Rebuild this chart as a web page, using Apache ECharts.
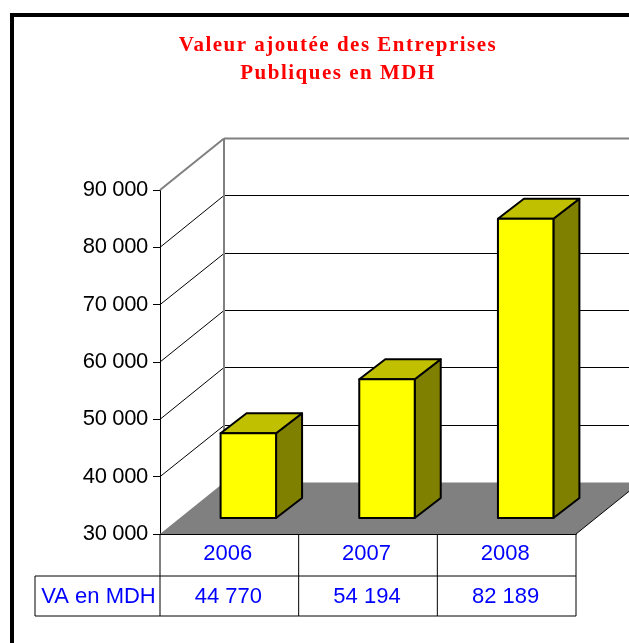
<!DOCTYPE html>
<html>
<head>
<meta charset="utf-8">
<style>html,body{margin:0;padding:0;background:#fff;overflow:hidden}#c{width:629px;height:643px}</style>
<script src="https://cdn.jsdelivr.net/npm/echarts@6/dist/echarts.min.js"></script>
</head>
<body>
<div id="c"></div>
<script>
const titleText = 'Valeur ajoutée des Entreprises\nPubliques en MDH';
const categories = ['2006', '2007', '2008'];
const values = [44770, 54194, 82189];
const yTicks = [30000, 40000, 50000, 60000, 70000, 80000, 90000];
const rowLabel = 'VA en MDH';

const DEPTH_X = 64, DEPTH_Y = 51.5;
const BAR_SHIFT_X = 19, BAR_SHIFT_Y = 16, BAR_DEPTH_X = 26, BAR_DEPTH_Y = 20, BAR_RATIO = 0.4;
const ROW1 = 42, ROW2 = 40, LABEL_COL = 125;
const FONT = '22px "Liberation Sans", Arial, sans-serif';
const fmt = v => String(v).replace(/\B(?=(\d{3})+$)/g, ' ');

// Tracking: canvas letterSpacing for the wide red title and the tight black tick labels
const proto = CanvasRenderingContext2D.prototype, nativeFill = proto.fillText;
proto.fillText = function (t, x, y, m) {
  const f = this.fillStyle;
  this.letterSpacing = f === '#ff0000' ? '1.5px' : f === '#000000' ? '-0.35px' : '0px';
  return m === undefined ? nativeFill.call(this, t, x, y) : nativeFill.call(this, t, x, y, m);
};

const line = (x1, y1, x2, y2, stroke, lineWidth) =>
  ({ type: 'line', shape: { x1, y1, x2, y2 }, style: { stroke, lineWidth } });
const poly = (points, fill, stroke, lineWidth) =>
  ({ type: 'polygon', shape: { points }, style: { fill, stroke, lineWidth, lineJoin: 'round' } });

function renderGrid(params, api) {
  const v = api.value(1), p = api.coord([0, v]), band = api.size([1, 0])[0];
  const x0 = p[0] - band / 2, y = p[1], xEnd = x0 + band * categories.length;
  if (v === yTicks[0]) return { type: 'group', children: [] };
  const top = v === yTicks[yTicks.length - 1];
  const c = top ? '#808080' : '#000', w = top ? 2 : 1;
  const back = Math.floor(y - DEPTH_Y) + 0.5;
  return { type: 'group', children: [
    line(x0, y, x0 + DEPTH_X, back, c, w),
    line(x0 + DEPTH_X, back, xEnd + DEPTH_X, back, c, w)
  ] };
}
function renderShell(params, api) {
  const band = api.size([1, 0])[0];
  const lo = api.coord([0, yTicks[0]]), hi = api.coord([0, yTicks[yTicks.length - 1]]);
  const x0 = lo[0] - band / 2, x1 = x0 + band * categories.length, y0 = lo[1], yT = hi[1];
  return { type: 'group', children: [
    line(x0 + DEPTH_X, yT - DEPTH_Y, x0 + DEPTH_X, y0 - DEPTH_Y, '#808080', 2),
    poly([[x0, y0], [x1, y0], [x1 + DEPTH_X, y0 - DEPTH_Y], [x0 + DEPTH_X, y0 - DEPTH_Y]], '#808080', null, 0),
    line(x1, y0, x1 + DEPTH_X, y0 - DEPTH_Y, '#000', 1)
  ] };
}
function renderBar(params, api) {
  const i = api.value(0), band = api.size([1, 0])[0];
  const top = api.coord([i, api.value(1)]), base = api.coord([i, yTicks[0]]);
  const w = band * BAR_RATIO;
  const l = top[0] + BAR_SHIFT_X - w / 2, r = l + w;
  const t = top[1] - BAR_SHIFT_Y, b = base[1] - BAR_SHIFT_Y;
  const dx = BAR_DEPTH_X, dy = BAR_DEPTH_Y;
  return { type: 'group', children: [
    poly([[r, t], [r + dx, t - dy], [r + dx, b - dy], [r, b]], '#808000', '#000', 2),
    poly([[l, t], [l + dx, t - dy], [r + dx, t - dy], [r, t]], '#C0C000', '#000', 2),
    poly([[l, t], [r, t], [r, b], [l, b]], '#FFFF00', '#000', 2)
  ] };
}
function renderTable(params, api) {
  const i = api.value(0), band = api.size([1, 0])[0], p = api.coord([i, yTicks[0]]);
  const l = p[0] - band / 2, r = p[0] + band / 2, y0 = p[1], y1 = y0 + ROW1, y2 = y1 + ROW2;
  const kids = [
    line(r, y0, r, y2, '#000', 1),
    line(l, y1, r, y1, '#000', 1),
    line(l, y2, r, y2, '#000', 1),
    { type: 'text', style: { x: p[0] - 1, y: (y1 + y2) / 2 + 1, text: fmt(values[i]), fill: '#0000FF', font: FONT, align: 'center', verticalAlign: 'middle' } }
  ];
  if (i === 0) {
    kids.push(
      line(l, y0, l, y2, '#000', 1),
      line(l - LABEL_COL, y1, l - LABEL_COL, y2, '#000', 1),
      line(l - LABEL_COL, y1, l, y1, '#000', 1),
      line(l - LABEL_COL, y2, l, y2, '#000', 1),
      { type: 'text', style: { x: l - LABEL_COL / 2 + 1, y: (y1 + y2) / 2 + 1, text: rowLabel, fill: '#0000FF', font: FONT, align: 'center', verticalAlign: 'middle' } }
    );
  }
  return { type: 'group', children: kids };
}

const chart = echarts.init(document.getElementById('c'), null, { renderer: 'canvas' });
chart.setOption({
  animation: false,
  backgroundColor: '#fff',
  title: {
    text: titleText, left: 333, top: 27, textAlign: 'center',
    textStyle: { color: '#ff0000', fontFamily: '"Liberation Serif", serif', fontWeight: 'bold', fontSize: 21, lineHeight: 28 }
  },
  graphic: [{ type: 'rect', silent: true, shape: { x: 12, y: 15, width: 800, height: 800 }, style: { fill: null, stroke: '#000', lineWidth: 4 }, z: 100 }],
  grid: { left: 160, top: 190, width: 416, height: 344 },
  xAxis: {
    type: 'category', data: categories,
    axisLine: { lineStyle: { color: '#000', width: 1 } }, axisTick: { show: false },
    axisLabel: { color: '#0000FF', fontFamily: '"Liberation Sans", Arial, sans-serif', fontSize: 22, margin: 9, padding: [0, 3, 0, 0] }
  },
  yAxis: {
    type: 'value', min: yTicks[0], max: yTicks[yTicks.length - 1], interval: yTicks[1] - yTicks[0],
    splitLine: { show: false },
    axisLine: { show: true, lineStyle: { color: '#000', width: 1 } },
    axisTick: { show: true, length: 7, lineStyle: { color: '#000', width: 1 } },
    axisLabel: { color: '#000', fontFamily: '"Liberation Sans", Arial, sans-serif', fontSize: 22, margin: 12, padding: [5, 0, 0, 0], formatter: fmt }
  },
  series: [
    { type: 'custom', name: 'grid', silent: true, z: 1, renderItem: renderGrid, data: yTicks.map(v => [0, v]) },
    { type: 'custom', name: 'shell', silent: true, z: 2, renderItem: renderShell, data: [[0, yTicks[0]]] },
    { type: 'custom', name: 'table', silent: true, z: 3, renderItem: renderTable, data: categories.map((c, i) => [i, yTicks[0]]) },
    { type: 'custom', name: rowLabel, silent: true, z: 4, renderItem: renderBar, data: values.map((v, i) => [i, v]) }
  ]
});
</script>
</body>
</html>
